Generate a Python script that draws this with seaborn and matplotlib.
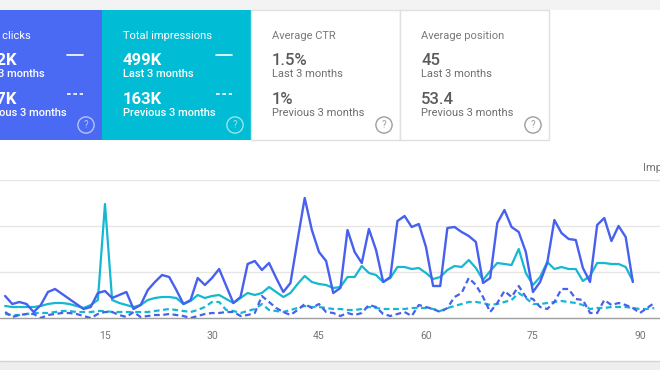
import numpy as np
import pandas as pd
import matplotlib
matplotlib.use('Agg')
import matplotlib.pyplot as plt
import seaborn as sns
from matplotlib.patches import Rectangle
from matplotlib.lines import Line2D

# daily values, last 3 months (days 1..89)
clicks = [44, 28, 32, 28, 12, 26, 52, 58, 48, 38, 28, 18, 22, 50, 54, 40, 46, 52, 18, 26,
          56, 72, 86, 82, 56, 28, 36, 80, 66, 80, 98, 64, 30, 42, 108, 114, 96, 110, 80, 52,
          70, 156, 240, 176, 132, 114, 50, 60, 176, 132, 110, 178, 136, 72, 82, 194, 204, 182, 188, 142,
          64, 64, 180, 182, 172, 164, 152, 70, 80, 190, 216, 182, 172, 132, 52, 72, 110, 196, 170, 158,
          156, 100, 72, 186, 200, 154, 184, 162, 72]
impressions = [2400, 2200, 2200, 2200, 2200, 2400, 2800, 3000, 3000, 2800, 2400, 2000, 2600, 3600, 22800,
               3600, 3000, 2600, 2200, 2600, 3600, 4000, 4200, 4200, 4000, 2800, 3400, 4600, 4000, 4400,
               4600, 3800, 3000, 4000, 5000, 4600, 5000, 6200, 5200, 4200, 5000, 6800, 8400, 7200, 6800,
               6600, 6000, 6200, 8200, 8200, 10400, 9000, 8600, 7200, 8000, 10200, 10200, 9800, 10000, 9000,
               7800, 8200, 9600, 10400, 10200, 11600, 10000, 7600, 9400, 11000, 10800, 10600, 13800, 9000, 6600,
               8200, 11200, 9800, 10200, 9800, 9800, 7400, 8400, 11000, 11000, 10800, 10800, 10200, 7400]

# daily values, previous 3 months (days 1..92)
prev_clicks = [12, 2, 6, 8, 8, 0, 6, 8, 10, 10, 8, 4, 0, 8, 12, 12, 6, 2, 12, 2,
               4, 6, 6, 8, 6, 4, 0, 4, 8, 10, 10, 12, 12, 4, 6, 10, 44, 32, 20, 12,
               6, 16, 28, 20, 28, 12, 10, 4, 10, 6, 10, 26, 22, 8, 4, 8, 12, 4, 26, 22,
               18, 12, 20, 42, 50, 80, 66, 42, 12, 30, 54, 42, 64, 42, 38, 22, 18, 32, 58, 58,
               38, 36, 10, 10, 36, 26, 30, 26, 20, 10, 20, 30]
prev_impressions = [800, 600, 600, 800, 1000, 1000, 1000, 1200, 1400, 1400, 1200, 1200, 1200, 1400, 1400,
                    1200, 1200, 1200, 1200, 1200, 1200, 1400, 1600, 1800, 1600, 1400, 1200, 1600, 2200, 3200,
                    3200, 1600, 1400, 1000, 1400, 1800, 2800, 1600, 1400, 1200, 1600, 2000, 2400, 2200, 2200,
                    2000, 1800, 1800, 1600, 1600, 1800, 2200, 2000, 1800, 1800, 1800, 1800, 2000, 2000, 2000,
                    1800, 1400, 2000, 2400, 2800, 3200, 3200, 3000, 2600, 2800, 3200, 3600, 5000, 4000, 2800,
                    2800, 3000, 3200, 3400, 3200, 3000, 2600, 1800, 2000, 2000, 2200, 2200, 2200, 2000, 1800,
                    1800, 2000]

tick_days = [15, 30, 45, 60, 75, 90]

card_titles = ['Total clicks', 'Total impressions', 'Average CTR', 'Average position']
card_current = ['7.2K', '499K', '1.5%', '45']
card_previous = ['1.7K', '163K', '1%', '53.4']

BLUE_CARD = '#4a6af4'
BLUE = '#4760ee'
TEAL_CARD = '#00bcd4'
TEAL = '#14b8d0'

W, H = 660, 370


def fx(x):
    return x / W


def fy(y):
    return 1 - y / H


sns.set_style('white')
plt.rcParams['font.family'] = ['Roboto', 'DejaVu Sans']

fig = plt.figure(figsize=(6.6, 3.7), dpi=100)
fig.patch.set_facecolor('white')

# page background strips
fig.add_artist(Rectangle((0, fy(10)), 1, 10 / H, transform=fig.transFigure, fc='#f3f3f3', ec='none'))
fig.add_artist(Rectangle((0, 0), 1, 9 / H, transform=fig.transFigure, fc='#eeeeee', ec='none'))
fig.add_artist(Line2D([0, 1], [fy(361), fy(361)], transform=fig.transFigure, color='#d4d4d4', lw=1))

# metric cards
card_left = [-47, 102, 251, 400]
card_fill = [BLUE_CARD, TEAL_CARD, 'white', 'white']
for i in range(4):
    left = card_left[i]
    colored = i < 2
    ec = 'none' if colored else '#e0e0e0'
    fig.add_artist(Rectangle((fx(left), fy(140)), 149 / W, 130 / H, transform=fig.transFigure,
                             fc=card_fill[i], ec=ec, lw=1))
    tx = left + 21
    title_c = 'white' if colored else '#7a7a7a'
    val_c = 'white' if colored else '#5a5a5a'
    lab_c = 'white' if colored else '#6e6e6e'
    vw = 'bold' if colored else 'medium'
    lw_ = 'medium' if colored else 'normal'
    fig.text(fx(tx), fy(39), card_titles[i], fontsize=8, color=title_c, va='baseline')
    if i == 0:
        fig.text(fx(17.5), fy(65), card_current[i], fontsize=12, color=val_c, weight=vw,
                 va='baseline', ha='right')
        fig.text(fx(17.5), fy(104), card_previous[i], fontsize=12, color=val_c, weight=vw,
                 va='baseline', ha='right')
    else:
        fig.text(fx(tx), fy(65), card_current[i], fontsize=12, color=val_c, weight=vw, va='baseline')
        fig.text(fx(tx), fy(104), card_previous[i], fontsize=12, color=val_c, weight=vw, va='baseline')
    fig.text(fx(tx), fy(77), 'Last 3 months', fontsize=8, color=lab_c, weight=lw_, va='baseline')
    fig.text(fx(tx), fy(116), 'Previous 3 months', fontsize=8, color=lab_c, weight=lw_, va='baseline')
    if colored:
        fig.add_artist(Line2D([fx(left + 114), fx(left + 130)], [fy(55), fy(55)],
                              transform=fig.transFigure, color='white', lw=1.2))
        fig.add_artist(Line2D([fx(left + 114), fx(left + 130)], [fy(94), fy(94)],
                              transform=fig.transFigure, color='white', lw=1.2,
                              linestyle=(0, (2.2, 1.6))))
    icon_c = (1, 1, 1, 0.6) if colored else '#9e9e9e'
    fig.text(fx(left + 133), fy(125), '?', fontsize=7, color=icon_c, ha='center', va='center',
             bbox=dict(boxstyle='circle,pad=0.32', fc='none', ec=icon_c, lw=1.0))

# chart
cur = pd.DataFrame({'day': np.arange(1, len(clicks) + 1), 'clicks': clicks, 'impressions': impressions})
prev = pd.DataFrame({'day': np.arange(1, len(prev_clicks) + 1), 'clicks': prev_clicks,
                     'impressions': prev_impressions})

ax = fig.add_axes([0, fy(318), 1, 138 / H])
ax.patch.set_visible(False)
sns.lineplot(data=prev, x='day', y='impressions', ax=ax, color=TEAL, lw=1.6,
             linestyle=(0, (2.6, 1.6)))
sns.lineplot(data=cur, x='day', y='impressions', ax=ax, color=TEAL, lw=1.6)
ax.set_ylim(0, 27600)
ax.set_xlim(0.28, 92.81)
ax.set_yticks([9200, 18400, 27600])
ax.yaxis.grid(True, color='#e6e6e6', lw=1)
ax.set_axisbelow(True)
ax.set_yticklabels([])
ax.set_xticks(tick_days)
ax.set_xticklabels([str(d) for d in tick_days])
ax.tick_params(axis='x', length=0, pad=9.5, labelsize=7.5, labelcolor='#757575')
ax.tick_params(axis='y', length=0)
ax.set_xlabel('')
ax.set_ylabel('')
for s in ax.spines.values():
    s.set_visible(False)
ax.axhline(0, color='#9e9e9e', lw=1, clip_on=False, zorder=0.5)

ax2 = ax.twinx()
ax2.patch.set_visible(False)
sns.lineplot(data=prev, x='day', y='clicks', ax=ax2, color=BLUE, lw=1.6,
             linestyle=(0, (2.6, 1.6)))
sns.lineplot(data=cur, x='day', y='clicks', ax=ax2, color=BLUE, lw=1.7)
ax2.set_ylim(0, 276)
ax2.set_xlim(0.28, 92.81)
ax2.set_yticks([])
ax2.set_ylabel('')
for s in ax2.spines.values():
    s.set_visible(False)

fig.text(fx(643), fy(171), 'Impressions', fontsize=8, color='#757575', va='baseline')

fig.savefig('out.png', dpi=100)
